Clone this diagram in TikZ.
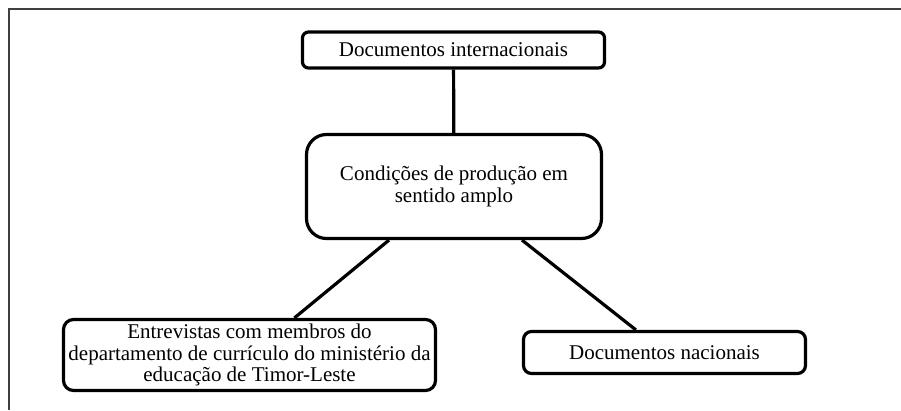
\documentclass[tikz,border=0pt]{standalone}
\usepackage{fontspec}
\setmainfont{Liberation Serif}
\usetikzlibrary{positioning}
\tikzstyle{edge} = [line width=3.2pt]
\tikzstyle{box} = [draw, line width=3.2pt, align=center, inner sep=1pt, font=\fontsize{21}{21.5}\selectfont]

\begin{document}
\begin{tikzpicture}[x=1pt, y=-1pt]
	\useasboundingbox (0,0) rectangle (901,410);
	\draw[line width=1.5pt, black!75] (901,9) -- (9,9) -- (9,410);

	\node[box, rounded corners=6pt, minimum width=302pt, minimum height=36pt] (intl) at (453.5, 50) {Documentos internacionais};
	\node[box, rounded corners=20pt, minimum width=295pt, minimum height=104pt] (cond) at (454, 186.5) {Condições de produção em \\ sentido amplo};
	\node[box, rounded corners=10pt, minimum width=372pt, minimum height=71pt] (entr) at (249.5, 355) {Entrevistas com membros do \\ departamento de currículo do ministério da \\ educação de Timor-Leste};
	\node[box, rounded corners=8pt, minimum width=282pt, minimum height=42pt] (nac) at (664.5, 352.5) {Documentos nacionais};

	\draw[edge] (intl) -- (cond);
	\draw[edge] (cond) -- (entr);
	\draw[edge] (cond) -- (nac);
\end{tikzpicture}
\end{document}
